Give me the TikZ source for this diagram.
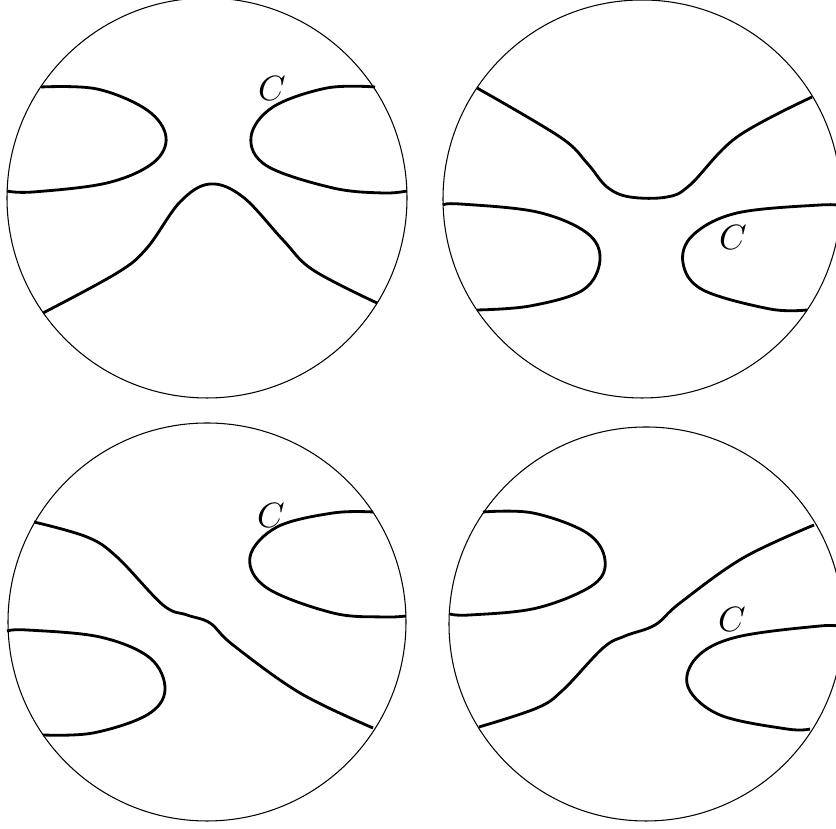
\documentclass[tikz,border=0pt]{standalone}
\usepackage{tikz}
\usetikzlibrary{positioning}
\tikzset{
  rim/.style={draw=black, line width=0.3pt},
  band/.style={draw=black, line width=0.8pt, line join=round},
  lbl/.style={font=\fontsize{10}{12}\selectfont, inner sep=0pt}
}
\begin{document}
\begin{tikzpicture}[x=0.1mm, y=-0.1mm]
\useasboundingbox (0,0) rectangle (836,829);
\clip (0,0) rectangle (836,829);
% Disc 1 (top left)
\draw[rim] (207,198) circle (200);
\draw[band] plot[smooth, tension=0.6] coordinates {(41,87) (97,89) (147,110) (166,137) (153,163) (107,183) (33,192) (7,191)};
\draw[band] plot[smooth, tension=0.6] coordinates {(375,87) (327,88) (273,107) (251,137) (267,166) (333,188) (383,193) (407,191)};
\draw[band] plot[smooth, tension=0.6] coordinates {(43,313) (117,273) (147,248) (180,202) (210,184) (243,197) (283,240) (313,270) (377,303)};
\node[lbl] (c1) at (272,89) {$C$};
% Disc 2 (top right)
\draw[rim] (642,199) circle (199);
\draw[band] plot[smooth, tension=0.6] coordinates {(477,88) (560,137) (587,163) (607,187) (630,197) (667,197) (690,185) (737,137) (812,97)};
\draw[band] plot[smooth, tension=0.6] coordinates {(443,205) (460,204) (537,212) (587,233) (600,260) (583,290) (530,306) (477,310)};
\draw[band] plot[smooth, tension=0.6] coordinates {(842,206) (820,205) (737,213) (693,235) (683,263) (703,290) (770,309) (807,310)};
\node[lbl] (c2) at (733,238) {$C$};
% Disc 3 (bottom left)
\draw[rim] (207,622) circle (199);
\draw[band] plot[smooth, tension=0.6] coordinates {(34,522) (87,537) (117,557) (163,605) (187,615) (210,623) (233,645) (300,693) (373,728)};
\draw[band] plot[smooth, tension=0.6] coordinates {(7,631) (27,630) (100,637) (150,658) (165,690) (147,715) (93,733) (43,735)};
\draw[band] plot[smooth, tension=0.6] coordinates {(373,512) (333,513) (277,527) (250,557) (267,588) (333,613) (383,617) (406,616)};
\node[lbl] (c3) at (271,516) {$C$};
% Disc 4 (bottom right)
\draw[rim] (646,624) circle (197);
\draw[band] plot[smooth, tension=0.6] coordinates {(483,512) (533,513) (587,533) (605,560) (593,585) (537,608) (470,615) (450,614)};
\draw[band] plot[smooth, tension=0.6] coordinates {(479,727) (537,708) (563,690) (603,648) (625,636) (655,625) (680,603) (743,558) (814,525)};
\draw[band] plot[smooth, tension=0.6] coordinates {(842,627) (820,626) (737,637) (697,657) (688,687) (720,715) (787,729) (810,729)};
\node[lbl] (c4) at (732,620) {$C$};
\end{tikzpicture}
\end{document}
